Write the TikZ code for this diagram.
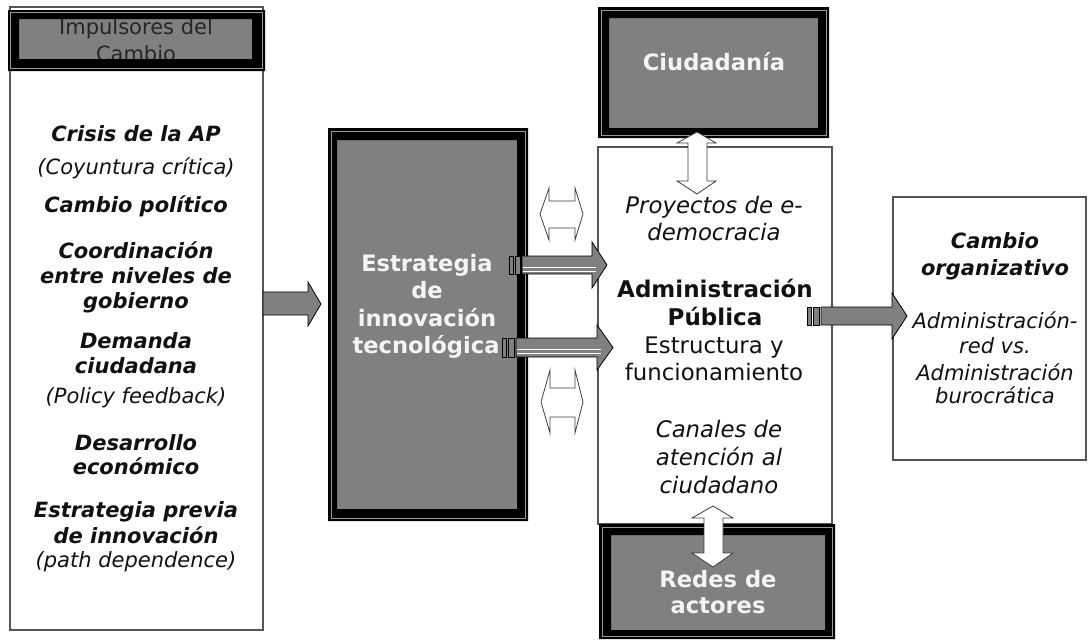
\documentclass[tikz,border=0pt]{standalone}
\usepackage{fontspec}
\setmainfont{DejaVu Sans}
\definecolor{boxgray}{HTML}{808080}
\definecolor{textc}{HTML}{111111}
\definecolor{lighttext}{HTML}{F4F4F4}
\definecolor{edgec}{HTML}{555555}
\begin{document}
\begin{tikzpicture}[x=1pt,y=-1pt,
  txt/.style={anchor=base, inner sep=0pt, font=\fontsize{21}{25}\selectfont, text=textc},
  bi/.style={txt, font=\fontsize{21}{25}\selectfont\bfseries\itshape},
  it/.style={txt, font=\fontsize{21}{25}\selectfont\itshape},
  ctxt/.style={txt, font=\fontsize{22.8}{27}\selectfont},
  cit/.style={txt, font=\fontsize{22.8}{27}\selectfont\itshape},
  cbd/.style={txt, font=\fontsize{23}{27}\selectfont\bfseries},
  lbl/.style={anchor=base, inner sep=0pt, font=\fontsize{22.6}{26}\selectfont\bfseries, text=lighttext},
  thinbox/.style={draw=edgec, line width=1.2pt, fill=white},
  inset/.style={draw=gray!80, line width=0.8pt},
  blockarrow/.style={fill=boxgray, draw=black, line width=0.8pt, line join=miter},
  hollowarrow/.style={fill=white, draw=black!75, line width=0.8pt, line join=miter}]
\useasboundingbox (0,0) rectangle (1088,640);
\fill[white] (0,0) rectangle (1088,640);

% ---------- left column box ----------
\draw[thinbox] (10,7) rectangle (263,630);
\fill[boxgray] (19,19) rectangle (252,59);
\node[txt, text=black!85] (h1) at (136,34) {Impulsores del};
\node[txt, text=black!85] (h2) at (136,61) {Cambio};
\fill[black, even odd rule] (8,10) rectangle (265,71) (19,19) rectangle (252,59);
\draw[inset] (10.5,12.5) rectangle (262.5,68.5);

\node[bi] (l1) at (136,141) {Crisis de la AP};
\node[it] (l2) at (136,174) {(Coyuntura crítica)};
\node[bi] (l3) at (136,212) {Cambio político};
\node[bi] (l4) at (136,258) {Coordinación};
\node[bi] (l5) at (136,283) {entre niveles de};
\node[bi] (l6) at (136,308) {gobierno};
\node[bi] (l7) at (136,348) {Demanda};
\node[bi] (l8) at (136,373) {ciudadana};
\node[it] (l9) at (136,403) {(Policy feedback)};
\node[bi] (l10) at (136,450) {Desarrollo};
\node[bi] (l11) at (136,474) {económico};
\node[bi] (l12) at (136,517) {Estrategia previa};
\node[bi] (l13) at (136,543) {de innovación};
\node[it] (l14) at (136,567) {(path dependence)};

% ---------- strategy box ----------
\fill[boxgray] (337,140) rectangle (517,509);
\fill[black, even odd rule] (328,128) rectangle (528,521) (337,140) rectangle (517,509);
\draw[inset] (331,131) rectangle (525,518);
\node[lbl] (s1) at (427,271) {Estrategia};
\node[lbl] (s2) at (427,298) {de};
\node[lbl] (s3) at (427,326) {innovación};
\node[lbl] (s4) at (426,353) {tecnológica};

% ---------- central box ----------
\draw[thinbox] (598,147) rectangle (832,524);
\node[cit] (c1) at (714,213) {Proyectos de e-};
\node[cit] (c2) at (714,240) {democracia};
\node[cbd] (c3) at (715,297) {Administración};
\node[cbd] (c4) at (715,325) {Pública};
\node[ctxt] (c5) at (714,353) {Estructura y};
\node[ctxt] (c6) at (714,380) {funcionamiento};
\node[cit] (c7) at (719,437) {Canales de};
\node[cit] (c8) at (719,465) {atención al};
\node[cit] (c9) at (719,493) {ciudadano};

% ---------- Ciudadania ----------
\fill[boxgray] (609,18) rectangle (818,128);
\fill[black, even odd rule] (598,7) rectangle (829,138) (609,18) rectangle (818,128);
\draw[inset] (601,10) rectangle (826,135);
\node[lbl] (ci) at (714,70) {Ciudadanía};

% ---------- Redes de actores ----------
\fill[boxgray] (611,535) rectangle (825,630);
\fill[black, even odd rule] (599,524) rectangle (835,639) (611,535) rectangle (825,630);
\draw[inset] (602,527) rectangle (832,636);
\node[lbl] (r1) at (718,587) {Redes de};
\node[lbl] (r2) at (718,613) {actores};

% ---------- Cambio organizativo ----------
\draw[thinbox] (893,197) rectangle (1086,460);
\node[bi] (o1) at (995,248) {Cambio};
\node[bi] (o2) at (995,275) {organizativo};
\node[it] (o3) at (995,328) {Administración-};
\node[it] (o4) at (995,353) {red vs.};
\node[it] (o5) at (995,380) {Administración};
\node[it] (o6) at (995,403) {burocrática};

% ---------- arrows ----------
% left -> strategy
\draw[blockarrow] (263,292) -- (308,292) -- (308,282) -- (321,304) -- (308,326) -- (308,315) -- (263,315) -- cycle;

% strategy -> central (upper, striped)
\draw[blockarrow] (509,256) rectangle (513,274);
\draw[blockarrow] (515,256) rectangle (520,274);
\draw[blockarrow] (522,256) -- (592,256) -- (592,242) -- (607,265) -- (592,288) -- (592,274) -- (522,274) -- cycle;
\draw[white, line width=0.9pt] (523,267) -- (596,267) (523,271) -- (596,271);

% strategy -> central (lower, striped)
\draw[blockarrow] (502,338) rectangle (506,357);
\draw[blockarrow] (508,338) rectangle (514,357);
\draw[blockarrow] (516,338) -- (597,338) -- (597,325) -- (613,347.5) -- (597,370) -- (597,357) -- (516,357) -- cycle;
\draw[white, line width=0.9pt] (517,349) -- (601,349) (517,353) -- (601,353);

% central -> cambio organizativo (striped)
\draw[blockarrow] (807,307) rectangle (811,325);
\draw[blockarrow] (813,307) rectangle (819,325);
\draw[blockarrow] (821,307) -- (892,307) -- (892,293) -- (907,316) -- (892,339) -- (892,325) -- (821,325) -- cycle;

% hollow left-right arrows
\draw[hollowarrow] (540,214) -- (549,188) -- (549,201) -- (575,201) -- (575,188) -- (583,214) -- (575,240) -- (575,228) -- (549,228) -- (549,240) -- cycle;
\draw[hollowarrow] (541,402) -- (550,370) -- (550,388) -- (575,388) -- (575,370) -- (583,402) -- (575,433) -- (575,417) -- (550,417) -- (550,433) -- cycle;

% hollow up-down arrows
\draw[hollowarrow] (697,132) -- (716,143) -- (707,143) -- (707,181) -- (716,181) -- (697,194) -- (677,181) -- (688,181) -- (688,143) -- (677,143) -- cycle;
\draw[hollowarrow] (713,506) -- (733,518) -- (723,518) -- (723,553) -- (733,553) -- (713,567) -- (692,553) -- (704,553) -- (704,518) -- (692,518) -- cycle;
\end{tikzpicture}
\end{document}
